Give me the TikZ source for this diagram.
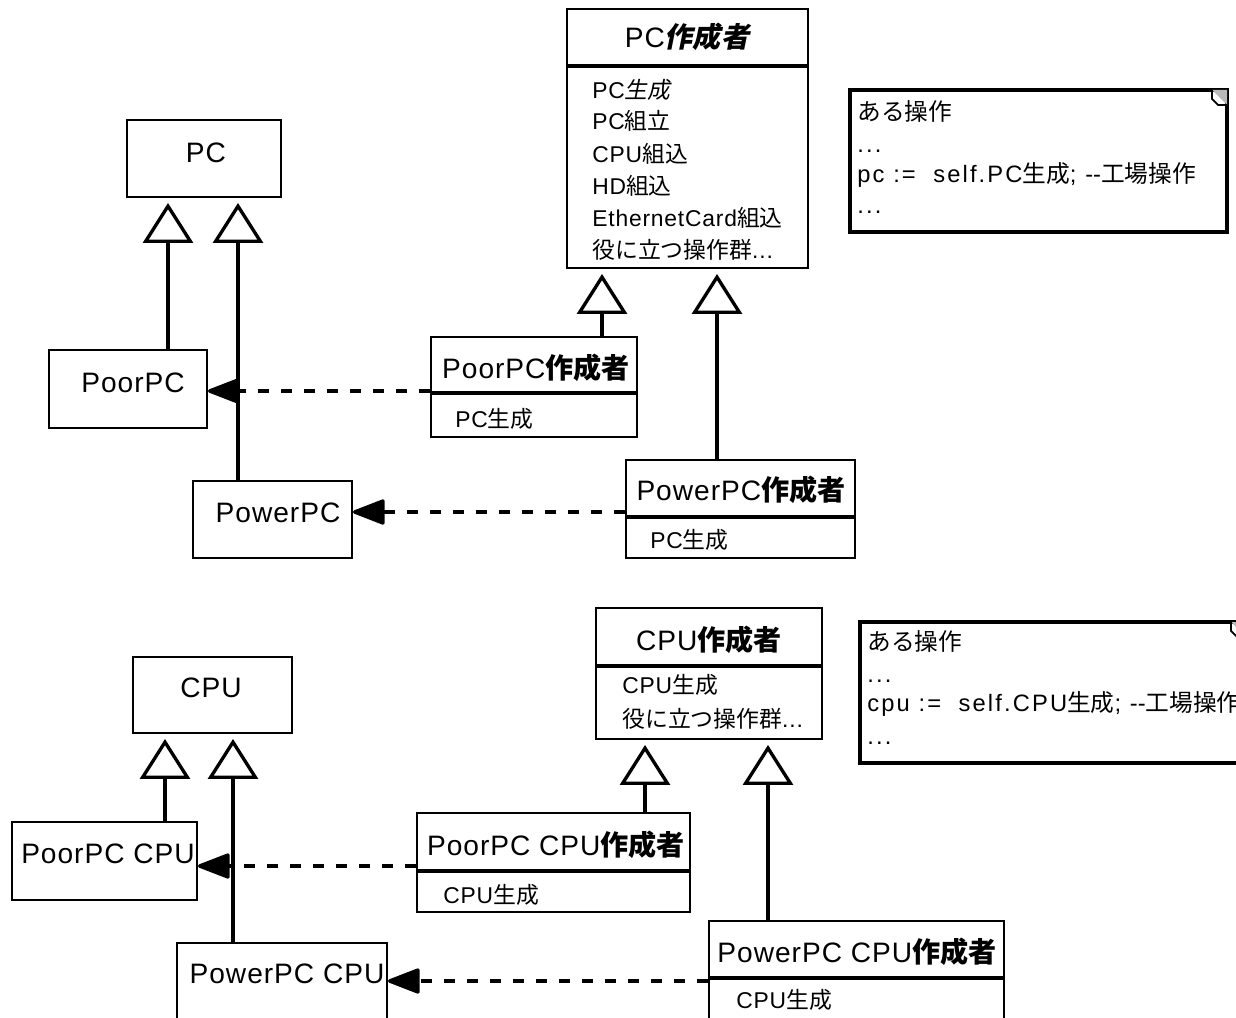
\documentclass[tikz,border=0pt]{standalone}
\usepackage{fontspec}
\setmainfont{Liberation Sans}[LetterSpace=3.5]
\newfontfamily\jpfont{Noto Sans CJK JP}
\newfontfamily\jpslant{Noto Sans CJK JP}[FakeSlant=0.2]
\newfontfamily\notefont{Liberation Sans}[LetterSpace=9]
\newcommand\ja[1]{{\jpfont #1}}
\newcommand\jait[1]{{\jpslant #1}}
\newcommand\etcdots{...}
\usetikzlibrary{arrows.meta,fit}
\tikzset{
  cls/.style={draw, line width=1.1pt, inner sep=0pt},
  memobox/.style={draw, line width=2pt, inner sep=0pt},
  clsname/.style={inner sep=0pt, anchor=base, font=\fontsize{16}{19}\selectfont},
  opline/.style={inner sep=0pt, anchor=base west, font=\fontsize{13}{16}\selectfont},
  memo/.style={inner sep=0pt, anchor=base west, font=\notefont\fontsize{13.5}{16}\selectfont},
  divider/.style={line width=1.8pt},
  inh/.style={line width=1.9pt, shorten >=0.1cm, -{Triangle[open, length=0.8cm, width=1cm]}},
  dep/.style={line width=2pt, dash pattern=on 0.22cm off 0.24cm, -{Triangle[length=0.7cm, width=0.52cm, round]}},
}
\begin{document}
\begin{tikzpicture}[x=0.02cm, y=-0.02cm]
                \useasboundingbox (0,0) rectangle (1236,1017);
                \clip (0,0) rectangle (1236,1017);
                \node[cls, fit={(127,120) (281,197)}] (pc) {};
                \node[cls, fit={(49,350) (207,428)}] (poorpc) {};
                \node[cls, fit={(193,481) (352,558)}] (powerpc) {};
                \node[clsname] (pc-t) at (206,162) {PC};
                \node[clsname] (poorpc-t) at (133,392) {PoorPC};
                \node[clsname] (powerpc-t) at (278,522) {PowerPC};
                \node[cls, fit={(567,9) (808,268)}] (pcmaker) {};
                \node[clsname] (pcmaker-t) at (687,48) {PC\jait{\bfseries 作成者}};
                \draw[divider] (pcmaker.west |- 0,66) -- (pcmaker.east |- 0,66);
                \foreach \op [count=\i] in {{PC\jait{生成}}, {PC\ja{組立}}, {CPU\ja{組込}}, {HD\ja{組込}}, {EthernetCard\ja{組込}}, {\ja{役に立つ操作群}\etcdots}}
                {
                    \node[opline] (pcmaker-op\i) at (592,66+32*\i) {\op};
                }
                \node[cls, fit={(431,337) (637,437)}] (poorpcmaker) {};
                \node[clsname] (poorpcmaker-t) at (536,378) {PoorPC\ja{\bfseries 作成者}};
                \draw[divider] (poorpcmaker.west |- 0,393) -- (poorpcmaker.east |- 0,393);
                \node[opline] (poorpcmaker-op) at (455,427) {PC\ja{生成}};
                \node[cls, fit={(626,460) (855,558)}] (powerpcmaker) {};
                \node[clsname] (powerpcmaker-t) at (741,500) {PowerPC\ja{\bfseries 作成者}};
                \draw[divider] (powerpcmaker.west |- 0,517) -- (powerpcmaker.east |- 0,517);
                \node[opline] (powerpcmaker-op) at (650,548) {PC\ja{生成}};
                \draw[inh] (poorpc.north -| 168,0) -- (pc.south -| 168,0);
                \draw[inh] (powerpc.north -| 238,0) -- (pc.south -| 238,0);
                \draw[inh] (poorpcmaker.north -| 602,0) -- (pcmaker.south -| 602,0);
                \draw[inh] (powerpcmaker.north -| 717,0) -- (pcmaker.south -| 717,0);
                \draw[dep] (poorpcmaker.west |- 0,391) -- (poorpc.east |- 0,391);
                \draw[dep] (powerpcmaker.west |- 0,512) -- (powerpc.east |- 0,512);
                \node[memobox, fit={(850,90) (1227,232)}] (memo1) {};
                \fill[gray!55] (1212,90) -- (1227,90) -- (1227,105) -- cycle;
                \draw[line width=1pt] (1212,90) -- (1212,99) -- (1218,105) -- (1227,105);
                \node[memo] (memo1-l1) at (857,120) {\ja{ある操作}};
                \node[memo] (memo1-l2) at (857,152) {\etcdots};
                \node[memo] (memo1-l3) at (857,182) {pc :=\ \ self.PC\ja{生成}; -\kern0pt-\ja{工場操作}};
                \node[memo] (memo1-l4) at (857,213) {\etcdots};
                \node[cls, fit={(133,657) (292,733)}] (cpu) {};
                \node[cls, fit={(12,822) (197,900)}] (poorcpu) {};
                \node[cls, fit={(177,943) (387,1040)}] (powercpu) {};
                \node[clsname] (cpu-t) at (211,697) {CPU};
                \node[clsname] (poorcpu-t) at (108,863) {PoorPC CPU};
                \node[clsname] (powercpu-t) at (287,983) {PowerPC CPU};
                \node[cls, fit={(596,608) (822,739)}] (cpumaker) {};
                \node[clsname] (cpumaker-t) at (709,650) {CPU\ja{\bfseries 作成者}};
                \draw[divider] (cpumaker.west |- 0,666) -- (cpumaker.east |- 0,666);
                \node[opline] (cpumaker-op1) at (622,693) {CPU\ja{生成}};
                \node[opline] (cpumaker-op2) at (622,727) {\ja{役に立つ操作群}\etcdots};
                \node[cls, fit={(417,813) (690,912)}] (poorcpumaker) {};
                \node[clsname] (poorcpumaker-t) at (556,855) {PoorPC CPU\ja{\bfseries 作成者}};
                \draw[divider] (poorcpumaker.west |- 0,871) -- (poorcpumaker.east |- 0,871);
                \node[opline] (poorcpumaker-op) at (443,903) {CPU\ja{生成}};
                \node[cls, fit={(709,921) (1004,1040)}] (powercpumaker) {};
                \node[clsname] (powercpumaker-t) at (857,962) {PowerPC CPU\ja{\bfseries 作成者}};
                \draw[divider] (powercpumaker.west |- 0,978) -- (powercpumaker.east |- 0,978);
                \node[opline] (powercpumaker-op) at (736,1008) {CPU\ja{生成}};
                \draw[inh] (poorcpu.north -| 165,0) -- (cpu.south -| 165,0);
                \draw[inh] (powercpu.north -| 233,0) -- (cpu.south -| 233,0);
                \draw[inh] (poorcpumaker.north -| 645,0) -- (cpumaker.south -| 645,0);
                \draw[inh] (powercpumaker.north -| 768,0) -- (cpumaker.south -| 768,0);
                \draw[dep] (poorcpumaker.west |- 0,866) -- (poorcpu.east |- 0,866);
                \draw[dep] (powercpumaker.west |- 0,981) -- (powercpu.east |- 0,981);
                \node[memobox, fit={(860,622) (1246,763)}] (memo2) {};
                \fill[gray!55] (1231,622) -- (1246,622) -- (1246,637) -- cycle;
                \draw[line width=1pt] (1231,622) -- (1231,631) -- (1237,637) -- (1246,637);
                \node[memo] (memo2-l1) at (867,650) {\ja{ある操作}};
                \node[memo] (memo2-l2) at (867,682) {\etcdots};
                \node[memo] (memo2-l3) at (867,711) {cpu :=\ \ self.CPU\ja{生成}; -\kern0pt-\ja{工場操作}};
                \node[memo] (memo2-l4) at (867,744) {\etcdots};
\end{tikzpicture}
\end{document}
